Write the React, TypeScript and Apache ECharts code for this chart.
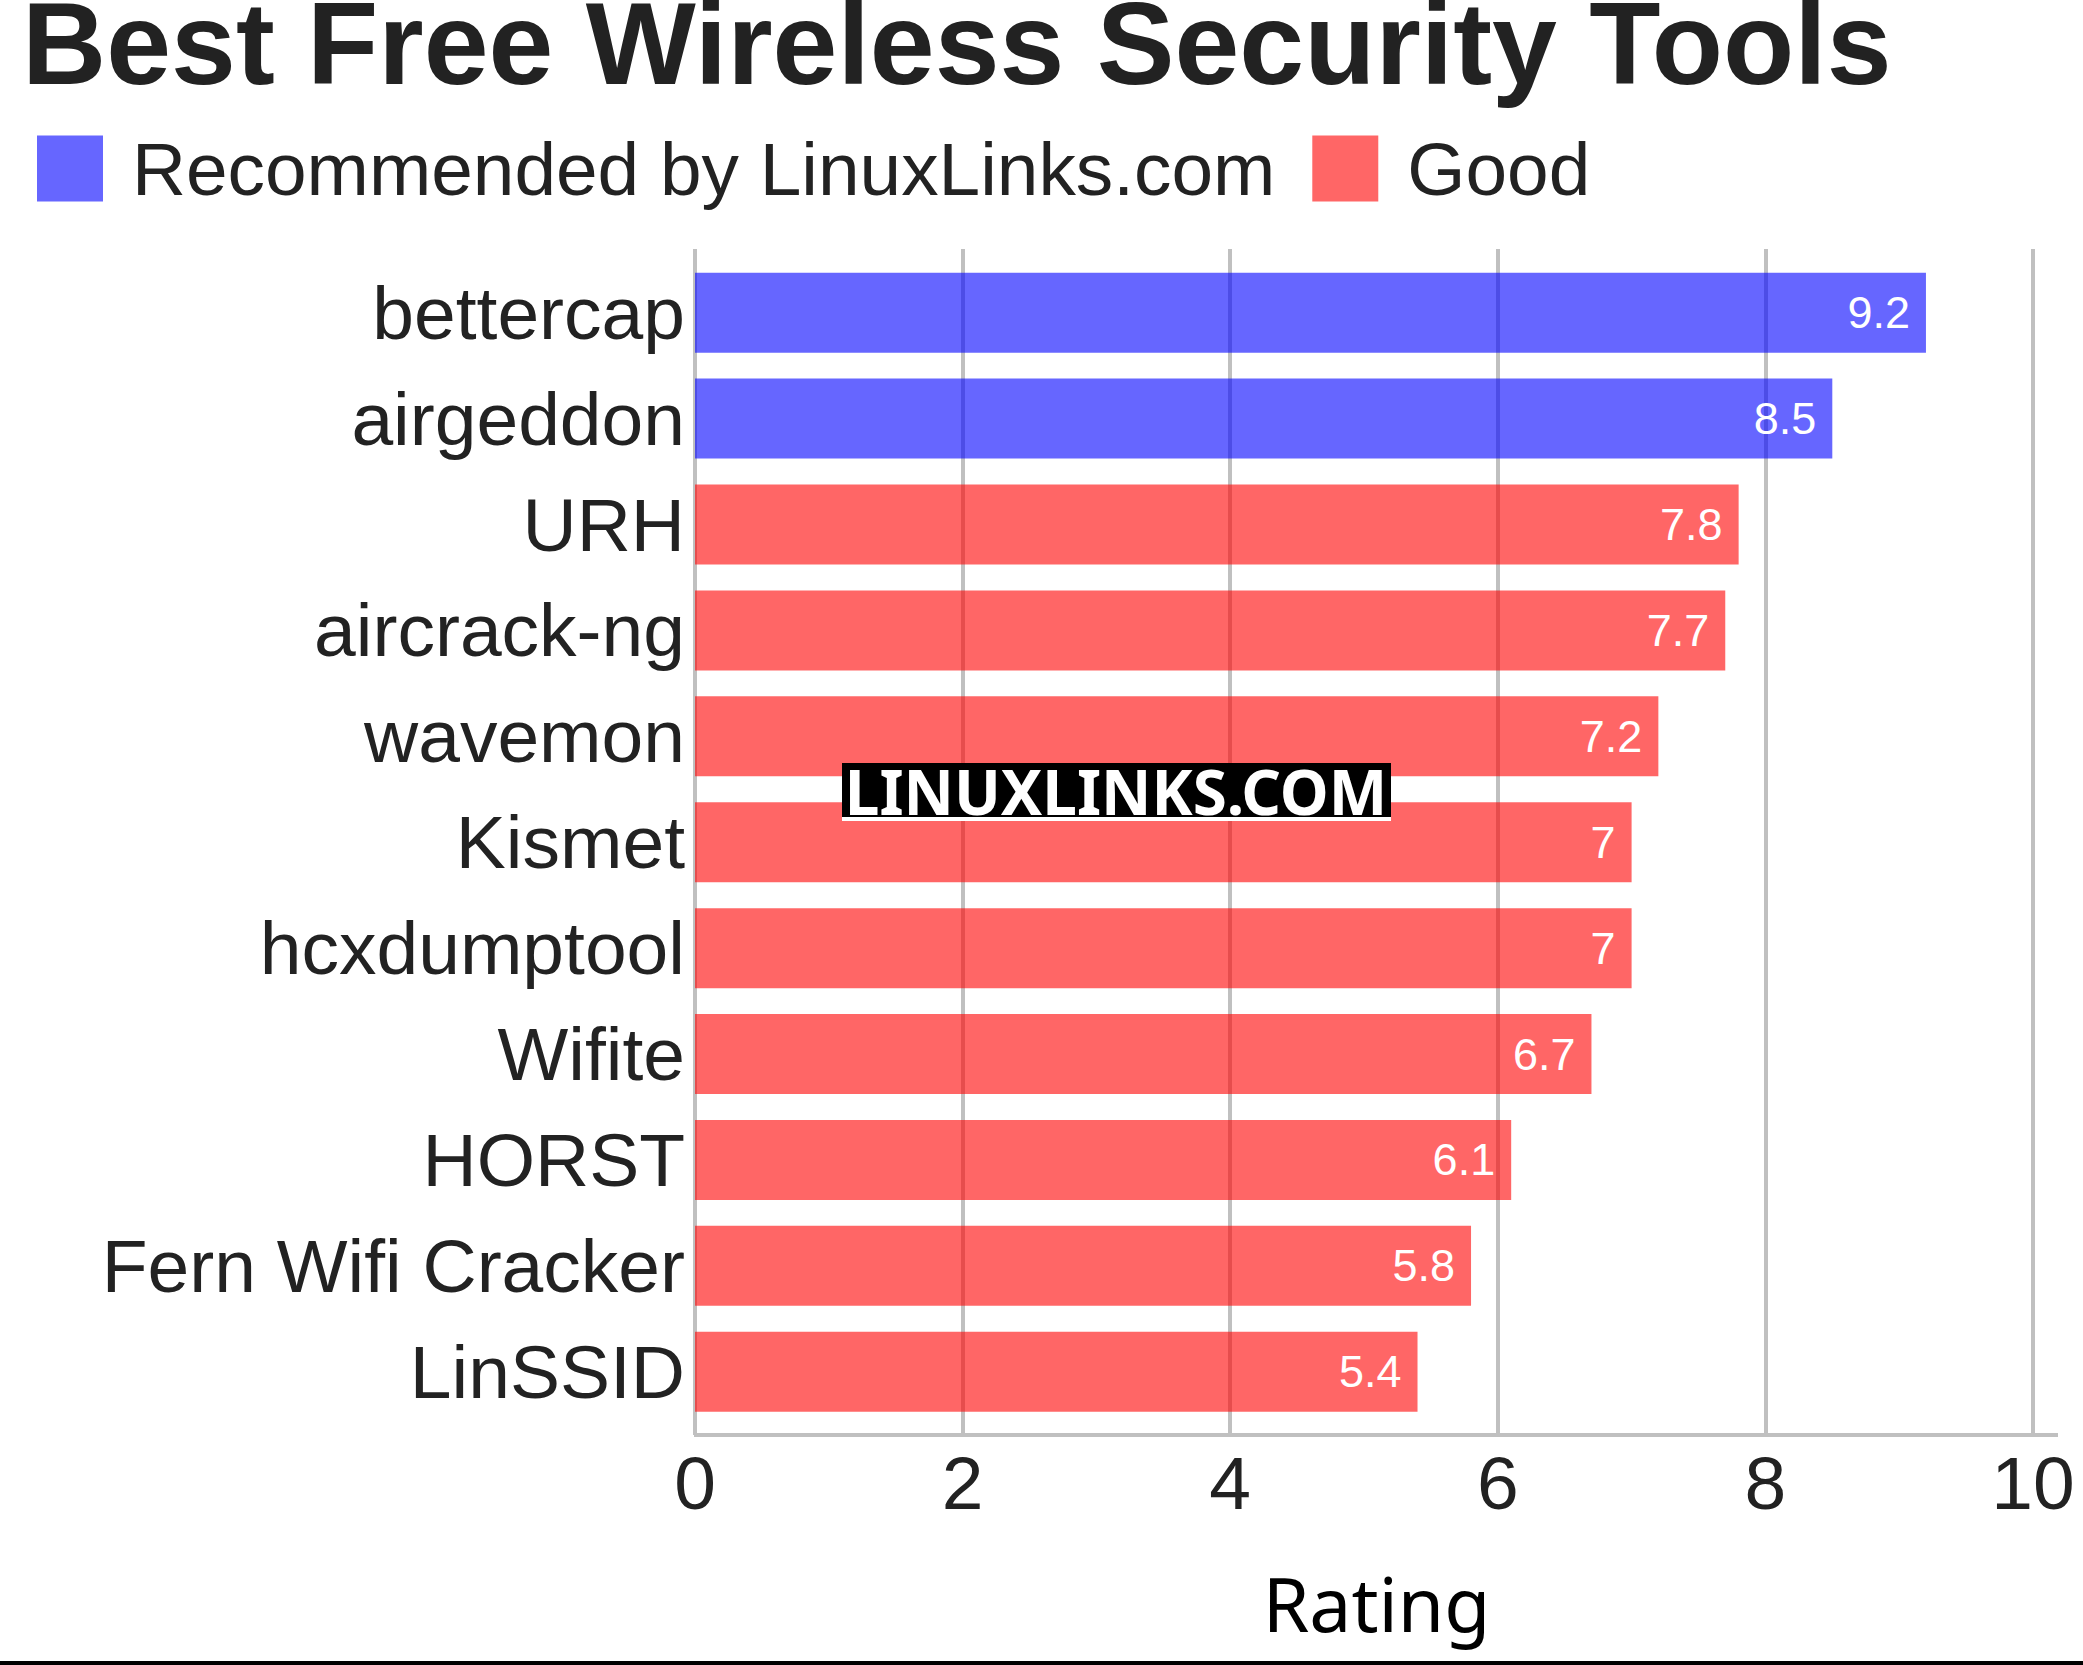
import { useEffect, useRef } from 'react';
import * as echarts from 'echarts';

// tools, top to bottom
const tools = [
  'bettercap',
  'airgeddon',
  'URH',
  'aircrack-ng',
  'wavemon',
  'Kismet',
  'hcxdumptool',
  'Wifite',
  'HORST',
  'Fern Wifi Cracker',
  'LinSSID'
];
const ratings = [9.2, 8.5, 7.8, 7.7, 7.2, 7, 7, 6.7, 6.1, 5.8, 5.4];
// which tools LinuxLinks recommends
const recommended = ['bettercap', 'airgeddon'];
const seriesNames = ['Recommended by LinuxLinks.com', 'Good'];
const ratingTicks = { min: 0, max: 10, interval: 2 };

const recData = tools.map((t, i) => (recommended.includes(t) ? ratings[i] : '-'));
const goodData = tools.map((t, i) => (recommended.includes(t) ? '-' : ratings[i]));

const SANS = '"Liberation Sans", Arial, sans-serif';

const App = () => {
  const chartRef = useRef<HTMLDivElement>(null);

  useEffect(() => {
    document.body.style.margin = '0';
    if (!chartRef.current) return;
    const chart = echarts.init(chartRef.current, undefined, { renderer: 'svg' });

    const barLabel = {
      show: true,
      position: 'insideRight',
      distance: 16,
      color: '#fff',
      fontFamily: SANS,
      fontSize: 45
    };

    const option: echarts.EChartsOption = {
      animation: false,
      backgroundColor: '#fff',
      title: {
        text: 'Best Free Wireless Security Tools',
        left: 22,
        top: 0,
        padding: 0,
        textStyle: {
          fontFamily: SANS,
          fontSize: 116.6,
          lineHeight: 86,
          fontWeight: 'bold',
          color: '#222'
        }
      },
      legend: {
        left: 37,
        top: 131,
        padding: 0,
        itemWidth: 66,
        itemHeight: 66,
        itemGap: 37,
        icon: 'rect',
        data: seriesNames,
        textStyle: {
          fontFamily: SANS,
          fontSize: 74.8,
          color: '#222',
          padding: [0, 0, 0, 24]
        }
      },
      grid: [
        { left: 695, right: 50, top: 249, bottom: 230 },
        { left: 695, right: 50, top: 259.75, bottom: 240.3 }
      ],
      xAxis: [
        {
          gridIndex: 0,
          type: 'value',
          min: ratingTicks.min,
          max: ratingTicks.max,
          interval: ratingTicks.interval,
          axisLine: { show: false },
          axisTick: { show: false },
          splitLine: { show: true, lineStyle: { color: '#c0c0c0', width: 4 } },
          axisLabel: {
            margin: 10,
            fontFamily: SANS,
            fontSize: 75,
            color: '#222'
          },
          name: 'Rating',
          nameLocation: 'middle',
          nameGap: 130,
          nameTextStyle: {
            fontFamily: '"Noto Sans", sans-serif',
            fontSize: 75,
            color: '#000',
            padding: [0, 0, 0, 25]
          }
        },
        {
          gridIndex: 1,
          type: 'value',
          min: ratingTicks.min,
          max: ratingTicks.max,
          show: false
        }
      ],
      yAxis: [
        { gridIndex: 0, type: 'value', show: false },
        {
          gridIndex: 1,
          type: 'category',
          inverse: true,
          data: tools,
          axisLine: { show: false },
          axisTick: { show: false },
          axisLabel: {
            margin: 10,
            fontFamily: SANS,
            fontSize: 75,
            color: '#222'
          }
        }
      ],
      series: [
        {
          name: seriesNames[0],
          type: 'bar',
          xAxisIndex: 1,
          yAxisIndex: 1,
          stack: 'r',
          barWidth: 80,
          data: recData,
          itemStyle: { color: 'rgba(0, 0, 255, 0.6)' },
          label: barLabel
        },
        {
          name: seriesNames[1],
          type: 'bar',
          xAxisIndex: 1,
          yAxisIndex: 1,
          stack: 'r',
          barWidth: 80,
          data: goodData,
          itemStyle: { color: 'rgba(255, 0, 0, 0.6)' },
          label: barLabel
        }
      ],
      graphic: {
        elements: [
          // value axis line, runs a little past 10
          {
            type: 'line',
            shape: { x1: 694, y1: 1435, x2: 2058, y2: 1435 },
            style: { stroke: '#c0c0c0', lineWidth: 4 },
            z: 10
          },
          // watermark
          {
            type: 'rect',
            shape: { x: 842, y: 763, width: 549, height: 54 },
            style: { fill: '#000' },
            z: 20
          },
          {
            type: 'rect',
            shape: { x: 842, y: 817, width: 549, height: 4 },
            style: { fill: '#fff' },
            z: 20
          },
          {
            type: 'text',
            x: 1116,
            y: 791,
            style: {
              text: 'LINUXLINKS.COM',
              fill: '#fff',
              font: 'bold 62px "Noto Sans", sans-serif',
              textAlign: 'center',
              textVerticalAlign: 'middle'
            },
            z: 21
          },
          // bottom rule
          {
            type: 'rect',
            shape: { x: 0, y: 1661, width: 2083, height: 4 },
            style: { fill: '#000' },
            z: 10
          }
        ]
      }
    };

    chart.setOption(option);

    return () => {
      chart.dispose();
    };
  }, []);

  return <div ref={chartRef} style={{ width: '2083px', height: '1665px' }} />;
};

export default App;
